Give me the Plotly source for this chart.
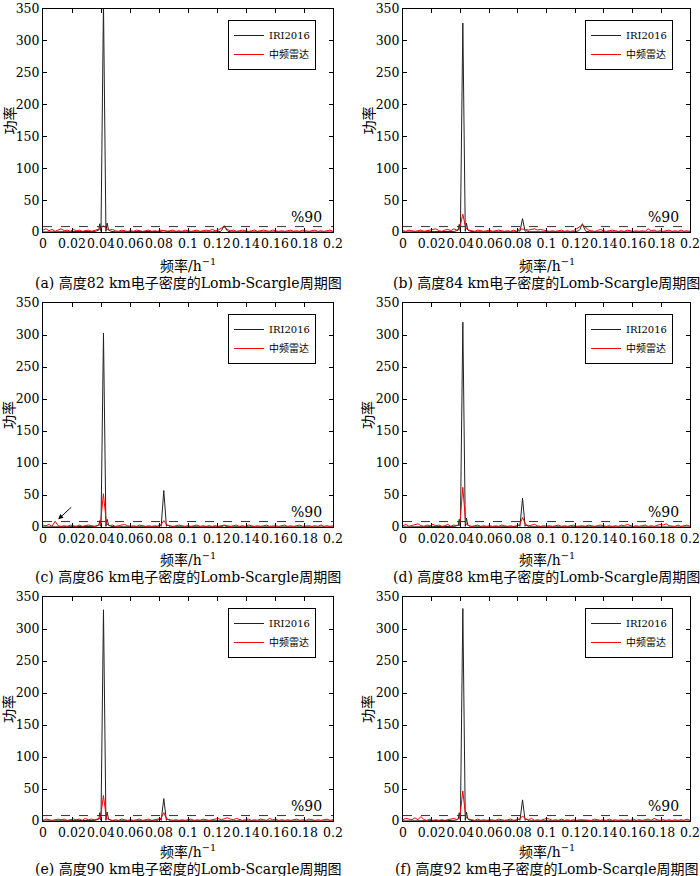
import numpy as np
import plotly.graph_objects as go

# ---------------- data ----------------
PANELS = ["a", "b", "c", "d", "e", "f"]
HEIGHTS_KM = [82, 84, 86, 88, 90, 92]

# frequency grid of the MF radar spectrum (1/480 h^-1 step, 0 .. 0.2)
RED_FREQ = np.arange(97) / 480.0

RED_A = [3,5,2,4,1,3,5,2,3,1, 4,2,3,1,2,3,1,2,4,5, 10,5,3,4,2,1,3,2,1,2,
         1,3,2,1,2,3,1,2,1,3, 2,1,2,3,1,2,1,3,2,1, 2,3,1,2,3,2,4,2,3,6,
         8,4,2,3,1,2,3,2,1,2, 3,1,2,3,2,1,3,2,1,2, 1,2,3,1,2,1,3,2,1,2, 3,1,2,1,2,3,1]
RED_B = [2,1,3,2,1,2,3,1,2,2, 3,5,2,1,3,4,2,5,3,6, 28,6,3,2,1,3,2,1,2,3,
         1,2,3,2,1,2,1,3,1,5, 5,4,3,4,5,3,4,3,2,1, 2,1,2,3,1,2,1,2,5,8,
         11,8,3,2,1,2,4,2,1,2, 3,2,1,2,1,3,2,1,2,1, 2,1,5,2,3,1,2,1,2,3, 1,2,1,3,1,2,1]
RED_C = [3,2,4,1,9,2,1,2,1,3, 2,1,3,1,2,3,2,1,2,4, 52,5,2,3,1,2,3,4,2,1,
         2,1,3,2,1,2,1,2,1,3, 10,3,2,1,2,3,2,1,2,1, 2,3,1,2,1,2,1,2,1,2,
         3,2,1,2,3,1,2,1,3,2, 1,2,1,2,3,1,2,2,1,2, 3,1,2,1,2,3,1,2,2,1, 2,1,3,1,2,1,2]
RED_D = [2,4,1,2,3,5,2,1,3,2, 4,2,3,1,2,4,1,3,2,3, 62,5,2,1,2,3,1,2,1,2,
         1,2,1,3,2,1,2,1,2,3, 15,4,2,3,4,2,1,2,1,2, 1,2,3,1,2,1,2,3,1,2,
         2,1,3,2,1,2,3,2,1,2, 1,2,1,3,2,4,2,1,2,1, 2,3,1,2,1,2,4,3,5,2, 2,1,3,1,2,3,1]
RED_E = [1,3,2,1,2,3,2,3,1,2, 3,2,3,1,4,2,3,2,3,4, 40,4,2,1,2,1,3,2,1,2,
         1,2,3,1,2,3,1,2,3,4, 13,3,2,1,2,1,2,1,2,3, 1,2,1,3,2,1,2,3,4,2,
         3,5,3,2,4,2,1,2,3,1, 2,1,3,2,1,4,2,3,1,2, 1,2,1,2,3,1,2,1,3,2, 1,2,1,2,3,1,2]
RED_F = [2,4,3,2,5,2,7,2,1,3, 1,2,1,2,1,2,3,4,2,5, 47,6,3,2,1,3,1,2,1,2,
         2,1,3,2,1,2,3,1,2,3, 8,3,2,4,1,2,1,2,4,3, 1,2,1,3,1,2,1,2,1,2,
         2,1,2,1,3,2,1,2,1,3, 1,2,1,2,1,2,1,3,1,2, 1,2,3,1,4,2,1,2,1,2, 1,2,1,2,1,3,1]

# IRI2016 spectrum, sampled at the nodes below
BLACK_FREQ = [0, 0.03, 0.036, 0.0385, 0.0392, 0.0400, 0.0417, 0.0434, 0.0442, 0.0452, 0.047, 0.05,
              0.078, 0.0808, 0.0815, 0.0833, 0.0851, 0.0858, 0.088,
              0.12, 0.1225, 0.1233, 0.125, 0.1267, 0.1275, 0.13, 0.2]
BLACK_A = [0,0.3,1,3,13,1,360,1,14,3,1,0.3, 0.3,0.5,1,2,1,0.5,0.3, 0.3,1,3,10,3,1,0.3, 0]
BLACK_B = [0,0.3,1,3,12,1,328,1,14,3,1,0.3, 0.3,2,1,21,1,2,0.3, 0.3,2,4,13,4,1,0.3, 0]
BLACK_C = [0,0.3,1,3,10,1,303,1,12,3,1,0.3, 0.3,3,1,57,1,3,0.3, 0.3,0.5,1,2,1,0.5,0.3, 0]
BLACK_D = [0,0.3,1,3,12,1,320,1,14,3,1,0.3, 0.3,3,1,45,1,3,0.3, 0.3,0.5,1,1,1,0.5,0.3, 0]
BLACK_E = [0,0.3,1,3,13,1,330,1,14,3,1,0.3, 0.3,3,1,35,1,3,0.3, 0.3,0.5,1,1,1,0.5,0.3, 0]
BLACK_F = [0,0.3,1,3,13,1,332,1,14,3,1,0.3, 0.3,3,1,33,1,3,0.3, 0.3,0.5,1,1,1,0.5,0.3, 0]

THRESH_90 = 8.5
X_TICKS = [0, 0.02, 0.04, 0.06, 0.08, 0.1, 0.12, 0.14, 0.16, 0.18, 0.2]
Y_TICKS = [0, 50, 100, 150, 200, 250, 300, 350]

RED = [RED_A, RED_B, RED_C, RED_D, RED_E, RED_F]
BLACK = [BLACK_A, BLACK_B, BLACK_C, BLACK_D, BLACK_E, BLACK_F]

# ---------------- layout ----------------
W, H = 700, 876
SERIF = "DejaVu Serif, Noto Sans CJK SC"
COLS = [(43, 333), (403, 690)]
ROWS = [(9, 232), (303, 527), (597, 821)]
XTITLE_Y = [265, 559, 851]
CAPTION_Y = [283, 577, 869]
YTITLE_X = [9, 368]

fig = go.Figure()
annotations = []
shapes = []

for i, p in enumerate(PANELS):
    r, c = divmod(i, 2)
    sfx = "" if i == 0 else str(i + 1)
    xa, ya = "x" + sfx, "y" + sfx
    leg = "legend" if i == 0 else "legend" + str(i + 1)
    x0, x1 = COLS[c]
    t, b = ROWS[r]

    fig.add_trace(go.Scatter(x=BLACK_FREQ, y=BLACK[i], mode="lines", name="IRI2016",
                             line=dict(color="#222222", width=1), xaxis=xa, yaxis=ya, legend=leg))
    fig.add_trace(go.Scatter(x=RED_FREQ, y=RED[i], mode="lines", name="中频雷达",
                             line=dict(color="#ff0000", width=1), xaxis=xa, yaxis=ya, legend=leg))

    axcommon = dict(showline=True, linecolor="black", linewidth=1, mirror="ticks",
                    ticks="inside", ticklen=4, tickcolor="black", showgrid=False,
                    zeroline=False, automargin=False,
                    tickfont=dict(family=SERIF, size=12.5, color="black"))
    fig.layout["xaxis" + sfx] = dict(domain=[x0 / W, x1 / W], anchor=ya, range=[0, 0.2],
                                     tickvals=X_TICKS, ticktext=[f"{v:g}" for v in X_TICKS],
                                     tickangle=0, **axcommon)
    fig.layout["yaxis" + sfx] = dict(domain=[1 - b / H, 1 - t / H], anchor=xa, range=[0, 350],
                                     tickvals=Y_TICKS, **axcommon)
    fig.layout[leg] = dict(x=(x1 - 17) / W, y=1 - (t + 11) / H, xanchor="right", yanchor="top",
                           bordercolor="black", borderwidth=1, bgcolor="white",
                           font=dict(family=SERIF, size=10, color="black"),
                           itemwidth=30, tracegroupgap=0)

    shapes.append(dict(type="line", xref=xa, yref=ya, x0=0, x1=0.2, y0=THRESH_90, y1=THRESH_90,
                       line=dict(color="#333333", width=1, dash="dash")))
    annotations.append(dict(xref=xa, yref=ya, x=0.1935, y=THRESH_90, text="%90", showarrow=False,
                            xanchor="right", yanchor="bottom",
                            font=dict(family=SERIF, size=14, color="black")))
    cx = (x0 + x1) / 2 / W
    annotations.append(dict(xref="paper", yref="paper", x=cx, y=1 - XTITLE_Y[r] / H,
                            text="频率/h<sup>−1</sup>", showarrow=False, xanchor="center",
                            yanchor="middle", font=dict(family=SERIF, size=14, color="black")))
    annotations.append(dict(xref="paper", yref="paper", x=cx, y=1 - CAPTION_Y[r] / H,
                            text=f"({p}) 高度{HEIGHTS_KM[i]} km电子密度的Lomb-Scargle周期图",
                            showarrow=False, xanchor="center", yanchor="middle",
                            font=dict(family=SERIF, size=14, color="black")))
    annotations.append(dict(xref="paper", yref="paper", x=YTITLE_X[c] / W, y=1 - (t + b) / 2 / H,
                            text="功率", textangle=-90, showarrow=False, xanchor="center",
                            yanchor="middle", font=dict(family=SERIF, size=14, color="black")))

# arrow in panel (c)
annotations.append(dict(xref="x3", yref="y3", x=0.0105, y=12, axref="x3", ayref="y3",
                        ax=0.0205, ay=33, text="", showarrow=True, arrowhead=2,
                        arrowsize=1, arrowwidth=1, arrowcolor="black"))

fig.update_layout(width=W, height=H, margin=dict(l=0, r=0, t=0, b=0),
                  paper_bgcolor="white", plot_bgcolor="white",
                  annotations=annotations, shapes=shapes, showlegend=True)

fig.write_html("out.html", config={"displayModeBar": False},
               post_script="document.body.style.margin='0';document.body.style.overflow='hidden';")
